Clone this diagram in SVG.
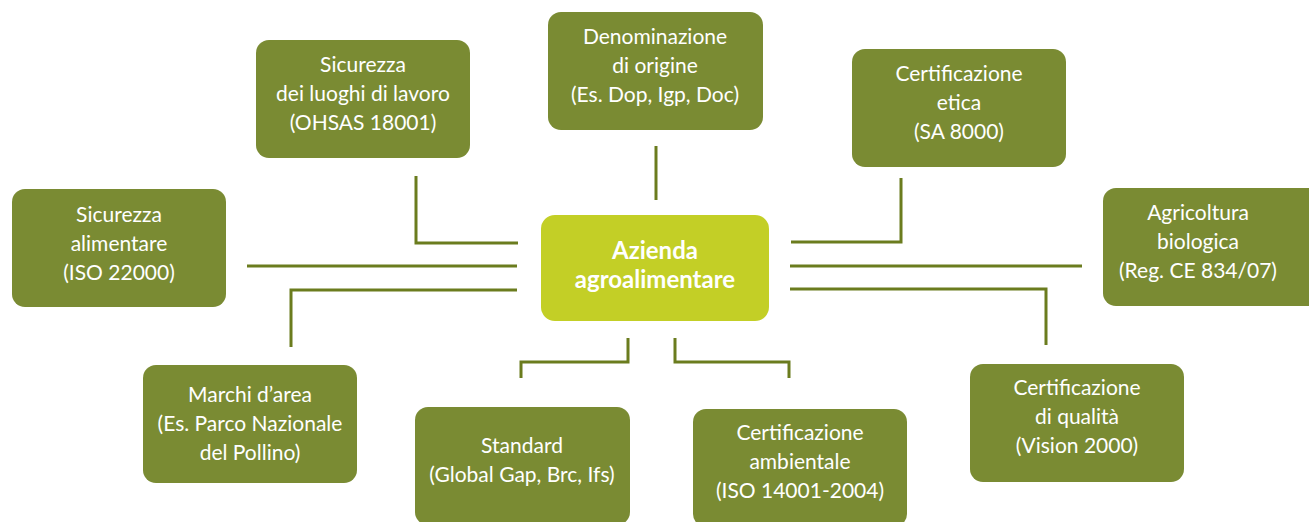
<svg xmlns="http://www.w3.org/2000/svg" width="1309" height="522" viewBox="0 0 1309 522">
<style>
.box{fill:#7a8b33}
.hub{fill:#c3cf26}
.t{font-family:Lato,"Liberation Sans",sans-serif;font-size:21px;fill:#ffffff;text-anchor:middle}
.tb{font-family:Lato,"Liberation Sans",sans-serif;font-size:24px;font-weight:bold;fill:#ffffff;text-anchor:middle}
.c{fill:none;stroke:#6b7c1e;stroke-width:3;stroke-linejoin:miter;stroke-linecap:butt}
</style>
<rect width="1309" height="522" fill="#ffffff"/>
<g id="connectors">
<polyline class="c" points="416,176 416,243 518,243"/>
<polyline class="c" points="656,146 656,200"/>
<polyline class="c" points="791,242 901,242 901,178"/>
<polyline class="c" points="247,266 517,266"/>
<polyline class="c" points="790,266 1082,266"/>
<polyline class="c" points="517,290 291,290 291,347"/>
<polyline class="c" points="790,289 1046,289 1046,345"/>
<polyline class="c" points="628,338 628,362 521,362 521,378"/>
<polyline class="c" points="675,338 675,362 789,362 789,378"/>
</g>
<g id="hub">
<rect class="hub" x="541" y="215" width="228" height="106" rx="14"/>
<text class="tb" x="655" y="259">Azienda</text>
<text class="tb" x="655" y="288">agroalimentare</text>
</g>
<g id="luoghi">
<rect class="box" x="256" y="40" width="214" height="118" rx="13"/>
<text class="t" x="363" y="72">Sicurezza</text>
<text class="t" x="363" y="101">dei luoghi di lavoro</text>
<text class="t" x="363" y="130">(OHSAS 18001)</text>
</g>
<g id="denominazione">
<rect class="box" x="548" y="12" width="215" height="118" rx="13"/>
<text class="t" x="655" y="44">Denominazione</text>
<text class="t" x="655" y="73">di origine</text>
<text class="t" x="655" y="102">(Es. Dop, Igp, Doc)</text>
</g>
<g id="etica">
<rect class="box" x="852" y="49" width="214" height="118" rx="13"/>
<text class="t" x="959" y="81">Certificazione</text>
<text class="t" x="959" y="110">etica</text>
<text class="t" x="959" y="139">(SA 8000)</text>
</g>
<g id="alimentare">
<rect class="box" x="12" y="189" width="214" height="118" rx="13"/>
<text class="t" x="119" y="222">Sicurezza</text>
<text class="t" x="119" y="251">alimentare</text>
<text class="t" x="119" y="280">(ISO 22000)</text>
</g>
<g id="biologica">
<rect class="box" x="1103" y="188" width="220" height="118" rx="13"/>
<text class="t" x="1198" y="220">Agricoltura</text>
<text class="t" x="1198" y="249">biologica</text>
<text class="t" x="1198" y="278">(Reg. CE 834/07)</text>
</g>
<g id="marchi">
<rect class="box" x="143" y="365" width="214" height="118" rx="13"/>
<text class="t" x="250" y="402">Marchi d’area</text>
<text class="t" x="250" y="431">(Es. Parco Nazionale</text>
<text class="t" x="250" y="460">del Pollino)</text>
</g>
<g id="qualita">
<rect class="box" x="970" y="364" width="214" height="118" rx="13"/>
<text class="t" x="1077" y="395">Certificazione</text>
<text class="t" x="1077" y="424">di qualità</text>
<text class="t" x="1077" y="453">(Vision 2000)</text>
</g>
<g id="standard">
<rect class="box" x="415" y="407" width="215" height="118" rx="13"/>
<text class="t" x="522" y="453">Standard</text>
<text class="t" x="522" y="482">(Global Gap, Brc, Ifs)</text>
</g>
<g id="ambientale">
<rect class="box" x="693" y="409" width="214" height="118" rx="13"/>
<text class="t" x="800" y="440">Certificazione</text>
<text class="t" x="800" y="469">ambientale</text>
<text class="t" x="800" y="498">(ISO 14001-2004)</text>
</g>
</svg>
